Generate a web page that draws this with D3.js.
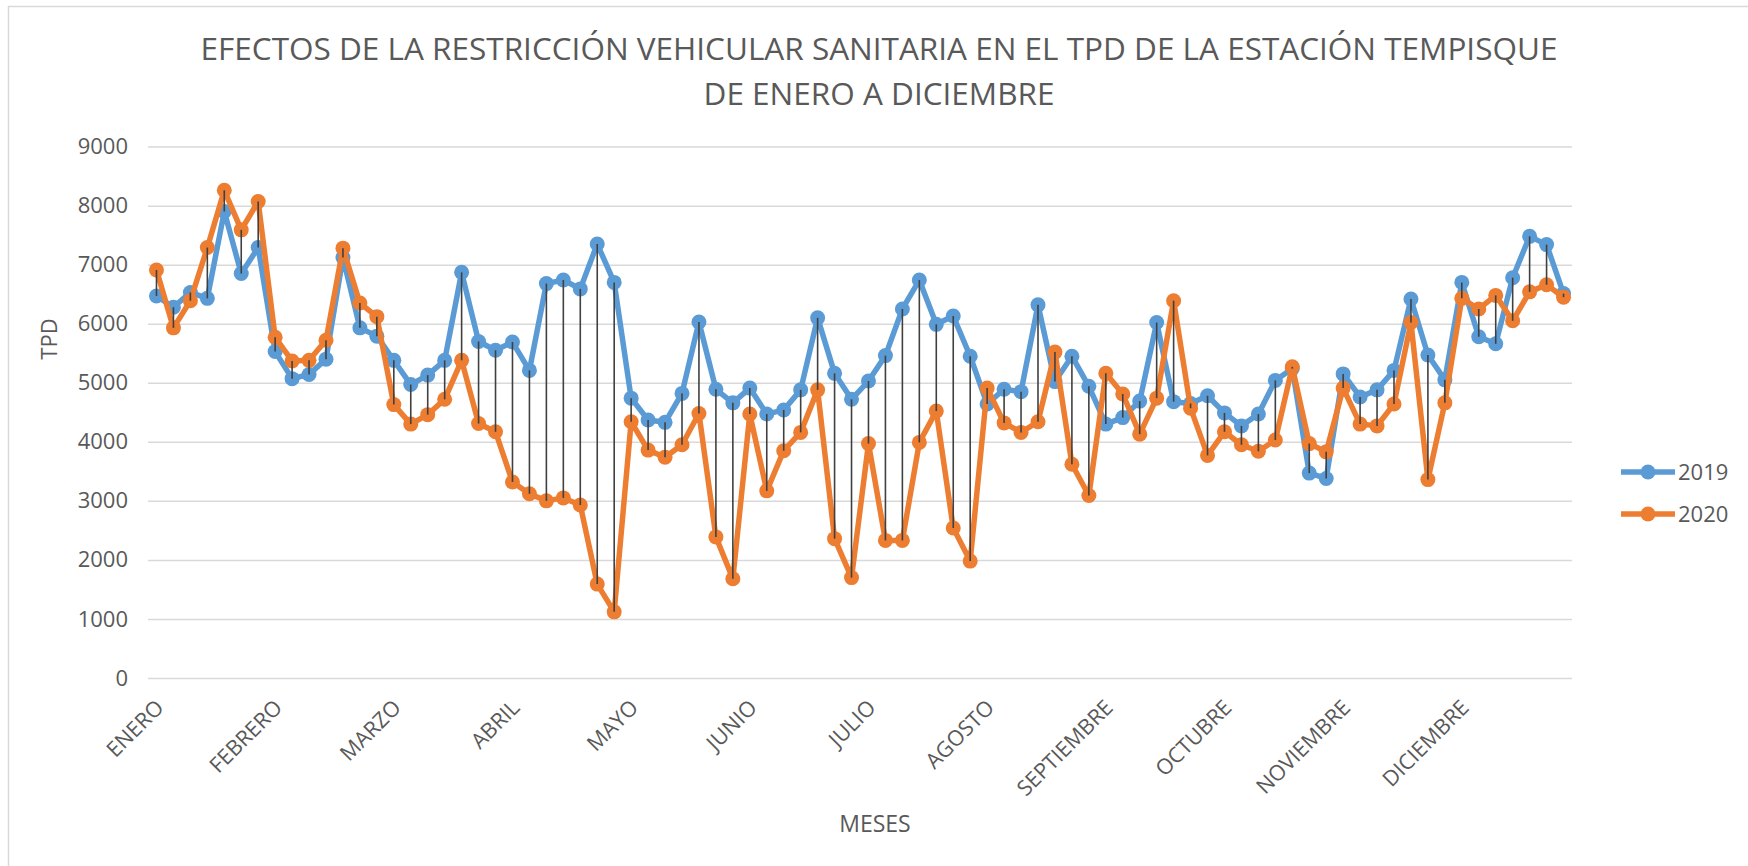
<!DOCTYPE html>
<html>
<head>
<meta charset="utf-8">
<script src="https://cdn.jsdelivr.net/npm/d3@7"></script>
<style>
  body { margin: 0; background: #fff; }
  svg { display: block; font-family: "Open Sans", sans-serif; }
</style>
</head>
<body>
<svg width="1748" height="866"></svg>
<script>
// month labels, one every 7 points
var months = ["ENERO", "FEBRERO", "MARZO", "ABRIL", "MAYO", "JUNIO", "JULIO",
              "AGOSTO", "SEPTIEMBRE", "OCTUBRE", "NOVIEMBRE", "DICIEMBRE"];
var perMonth = 7;

// TPD 2019
var tpd2019 = [6470, 6280, 6530, 6430, 7900, 6850, 7290, 5530, 5070, 5140, 5400, 7120, 5930, 5790,
               5380, 4970, 5130, 5380, 6870, 5700, 5550, 5690, 5210, 6680, 6740, 6590, 7350, 6700,
               4740, 4370, 4330, 4820, 6030, 4890, 4660, 4910, 4470, 4540, 4880, 6100, 5160, 4720,
               5030, 5460, 6250, 6740, 5990, 6130, 5450, 4640, 4890, 4850, 6320, 5020, 5450, 4940,
               4300, 4410, 4690, 6020, 4680, 4650, 4780, 4490, 4270, 4470, 5040, 5240, 3470, 3380,
               5150, 4760, 4880, 5210, 6420, 5470, 5050, 6700, 5780, 5660, 6780, 7480, 7340, 6510];

// TPD 2020
var tpd2020 = [6910, 5930, 6390, 7290, 8260, 7590, 8070, 5770, 5370, 5380, 5720, 7280, 6350, 6120,
               4630, 4300, 4460, 4720, 5380, 4310, 4170, 3320, 3120, 3000, 3050, 2930, 1590, 1120,
               4340, 3860, 3740, 3950, 4480, 2390, 1680, 4470, 3170, 3850, 4160, 4880, 2360, 1700,
               3970, 2330, 2330, 3990, 4520, 2540, 1980, 4910, 4320, 4160, 4340, 5520, 3620, 3090,
               5160, 4810, 4130, 4740, 6390, 4570, 3770, 4170, 3950, 3840, 4030, 5270, 3970, 3830,
               4910, 4300, 4270, 4640, 6020, 3360, 4660, 6430, 6250, 6480, 6050, 6540, 6660, 6450];

var yTicks = [0, 1000, 2000, 3000, 4000, 5000, 6000, 7000, 8000, 9000];

var series = [
    { name: "2019", values: tpd2019, color: "#5B9BD5" },
    { name: "2020", values: tpd2020, color: "#ED7D31" }
];

var svg = d3.select("svg"),
    textColor = "#595959",
    lineW = 5.5, markR = 7.5,
    plotLeft = 148, plotRight = 1572, plotTop = 146.6, plotBottom = 678;

// chart border
svg.append("rect")
    .attr("x", 8.5).attr("y", 6.5)
    .attr("width", 1800).attr("height", 1000)
    .attr("fill", "none")
    .attr("stroke", "#d9d9d9")
    .attr("stroke-width", 1.5);

var x = d3.scalePoint()
    .domain(d3.range(tpd2019.length))
    .range([plotLeft, plotRight])
    .padding(0.5);

var y = d3.scaleLinear().domain([0, 9000]).range([plotBottom, plotTop]);

// gridlines + y labels
var yAxis = d3.axisLeft(y).tickValues(yTicks).tickFormat(d3.format("d"))
    .tickSize(-(plotRight - plotLeft)).tickPadding(20);
var gy = svg.append("g").attr("transform", "translate(" + plotLeft + ",0)").call(yAxis);
gy.select(".domain").remove();
gy.selectAll(".tick line").attr("stroke", "#d9d9d9").attr("stroke-width", 1.5);
gy.selectAll(".tick text")
    .attr("fill", textColor)
    .attr("font-size", 22)
    .attr("font-family", "Open Sans");

// x labels (rotated month names)
var monthIdx = months.map(function(m, i) { return i * perMonth; });
var xAxis = d3.axisBottom(x).tickValues(monthIdx).tickSize(0)
    .tickFormat(function(d) { return months[d / perMonth]; });
var gx = svg.append("g").attr("transform", "translate(0," + plotBottom + ")").call(xAxis);
gx.select(".domain").remove();
gx.selectAll(".tick text")
    .attr("fill", textColor)
    .attr("font-size", 21.5)
    .attr("font-family", "Open Sans")
    .attr("text-anchor", "end")
    .attr("dy", 0)
    .attr("y", 0)
    .attr("transform", "translate(8,31) rotate(-45)");

// series lines + markers
var line = d3.line()
    .x(function(d, i) { return x(i); })
    .y(function(d) { return y(d); });

series.forEach(function(s) {
    var g = svg.append("g").attr("class", "series");
    g.append("path")
        .datum(s.values)
        .attr("d", line)
        .attr("fill", "none")
        .attr("stroke", s.color)
        .attr("stroke-width", lineW)
        .attr("stroke-linejoin", "round");
    g.selectAll("circle")
        .data(s.values)
        .enter().append("circle")
        .attr("cx", function(d, i) { return x(i); })
        .attr("cy", function(d) { return y(d); })
        .attr("r", markR)
        .attr("fill", s.color);
});

// high-low lines between the two years
svg.append("g").selectAll("line")
    .data(tpd2019)
    .enter().append("line")
    .attr("x1", function(d, i) { return x(i); })
    .attr("x2", function(d, i) { return x(i); })
    .attr("y1", function(d) { return y(d); })
    .attr("y2", function(d, i) { return y(tpd2020[i]); })
    .attr("stroke", "#404040")
    .attr("stroke-width", 1.6);

// title
var title = svg.append("text")
    .attr("text-anchor", "middle")
    .attr("fill", textColor)
    .attr("font-size", 31.5);
title.append("tspan").attr("x", 879).attr("y", 60)
    .text("EFECTOS DE LA RESTRICCIÓN VEHICULAR SANITARIA EN EL TPD DE LA ESTACIÓN TEMPISQUE");
title.append("tspan").attr("x", 879).attr("y", 105)
    .text("DE ENERO A DICIEMBRE");

// axis titles
svg.append("text")
    .attr("x", 875).attr("y", 832)
    .attr("text-anchor", "middle")
    .attr("fill", textColor)
    .attr("font-size", 23)
    .text("MESES");

svg.append("text")
    .attr("transform", "translate(57,339) rotate(-90)")
    .attr("text-anchor", "middle")
    .attr("fill", textColor)
    .attr("font-size", 22)
    .text("TPD");

// legend
var legend = svg.append("g").selectAll("g")
    .data(series)
    .enter().append("g")
    .attr("transform", function(d, i) { return "translate(0," + (472 + i * 42) + ")"; });
legend.append("line")
    .attr("x1", 1621).attr("x2", 1675)
    .attr("stroke", function(d) { return d.color; })
    .attr("stroke-width", lineW);
legend.append("circle")
    .attr("cx", 1648).attr("r", markR)
    .attr("fill", function(d) { return d.color; });
legend.append("text")
    .attr("x", 1678).attr("dy", "0.35em")
    .attr("fill", textColor)
    .attr("font-size", 22)
    .text(function(d) { return d.name; });
</script>
</body>
</html>
